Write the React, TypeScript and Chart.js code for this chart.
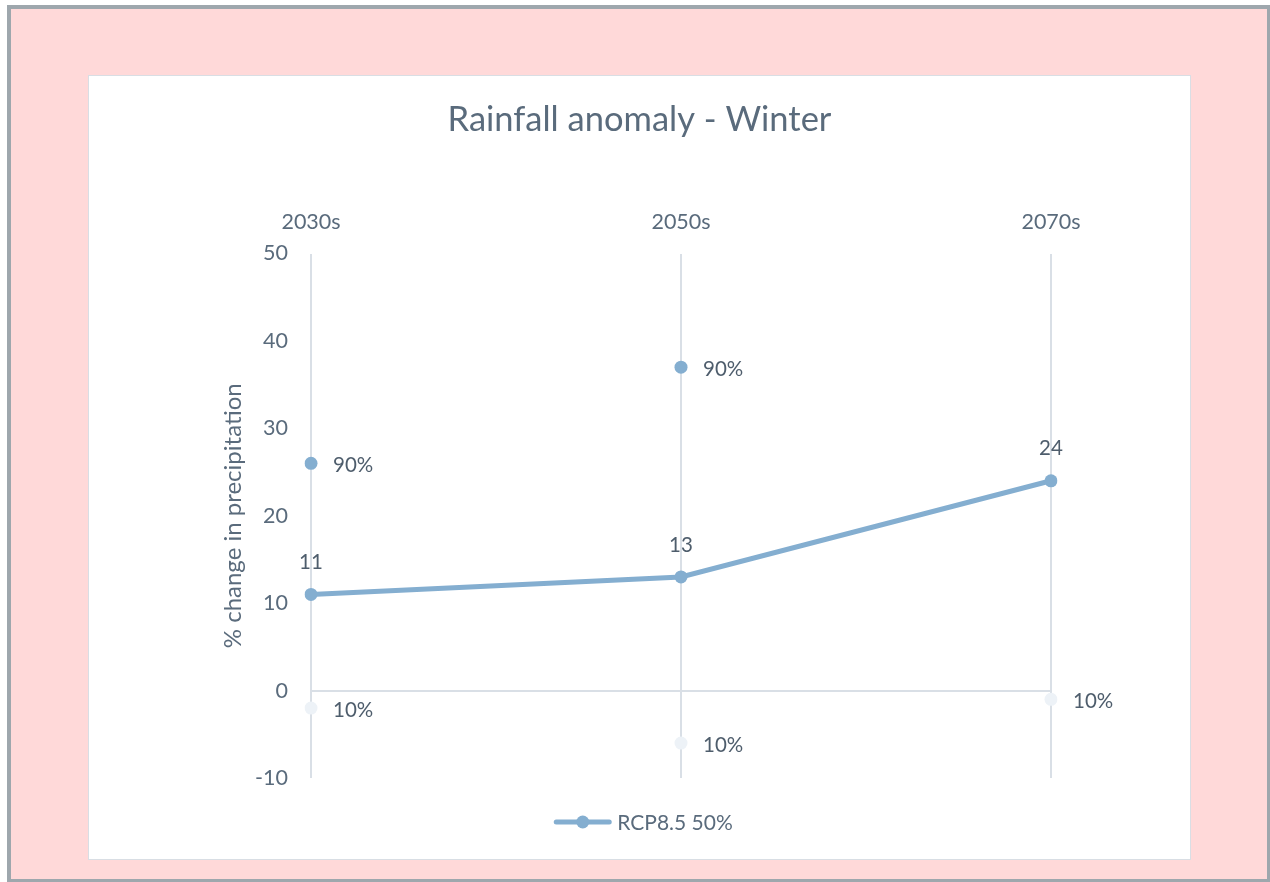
import { useEffect, useRef } from "react";
import { Chart, registerables } from "chart.js";

Chart.register(...registerables);

const titleText = "Rainfall anomaly - Winter";
const yAxisTitle = "% change in precipitation";
const categories = ["2030s", "2050s", "2070s"];
const median = [11, 13, 24];
const p90 = [26, 37, null];
const p10 = [-2, -6, -1];
const seriesName = "RCP8.5 50%";
const p90Label = "90%";
const p10Label = "10%";
const yMin = -10;
const yMax = 50;
const yStep = 10;

const FONT = "Lato, 'Open Sans', sans-serif";
const TEXT = "#5A6B7C";
const LABEL = "#4E5D6C";
const GRID = "#D9DFE6";
const LINE = "#84AED0";
const LOW = "#EDF2F7";

const labelPlugin = {
  id: "labelPlugin",
  afterDatasetsDraw(chart: any) {
    const ctx = chart.ctx;
    const xs = chart.scales.x;
    const ys = chart.scales.y;
    ctx.save();
    ctx.font = `20.5px ${FONT}`;
    ctx.fillStyle = LABEL;
    ctx.textAlign = "center";
    ctx.textBaseline = "middle";
    median.forEach((v, i) => {
      if (v == null) return;
      ctx.fillText(String(v), xs.getPixelForValue(i), ys.getPixelForValue(v) - 32);
    });
    ctx.textAlign = "left";
    p90.forEach((v, i) => {
      if (v == null) return;
      ctx.fillText(p90Label, xs.getPixelForValue(i) + 22, ys.getPixelForValue(v) + 2);
    });
    p10.forEach((v, i) => {
      if (v == null) return;
      ctx.fillText(p10Label, xs.getPixelForValue(i) + 22, ys.getPixelForValue(v) + 2);
    });
    ctx.restore();
  },
  afterDraw(chart: any) {
    const ctx = chart.ctx;
    ctx.save();
    ctx.font = `21px ${FONT}`;
    const tw = ctx.measureText(seriesName).width;
    const lineW = 53;
    const gap = 8;
    const total = lineW + gap + tw;
    const x0 = chart.width / 2 - total / 2 + 5;
    const y = chart.chartArea.bottom + 44;
    ctx.strokeStyle = LINE;
    ctx.lineWidth = 5;
    ctx.lineCap = "round";
    ctx.beginPath();
    ctx.moveTo(x0, y);
    ctx.lineTo(x0 + lineW, y);
    ctx.stroke();
    ctx.fillStyle = LINE;
    ctx.beginPath();
    ctx.arc(x0 + lineW / 2, y, 6.5, 0, Math.PI * 2);
    ctx.fill();
    ctx.fillStyle = TEXT;
    ctx.textAlign = "left";
    ctx.textBaseline = "middle";
    ctx.fillText(seriesName, x0 + lineW + gap, y + 1);
    ctx.restore();
  },
};

export default function App() {
  const ref = useRef<HTMLCanvasElement | null>(null);

  useEffect(() => {
    if (!ref.current) return;
    const chart = new Chart(ref.current, {
      type: "line",
      data: {
        labels: categories,
        datasets: [
          {
            label: "10%",
            data: p10,
            showLine: false,
            pointRadius: 6.5,
            pointHoverRadius: 6.5,
            pointBackgroundColor: LOW,
            pointBorderWidth: 0,
            borderColor: LOW,
            backgroundColor: LOW,
          },
          {
            label: "90%",
            data: p90,
            showLine: false,
            pointRadius: 6.5,
            pointHoverRadius: 6.5,
            pointBackgroundColor: LINE,
            pointBorderWidth: 0,
            borderColor: LINE,
            backgroundColor: LINE,
          },
          {
            label: seriesName,
            data: median,
            borderColor: LINE,
            backgroundColor: LINE,
            borderWidth: 5,
            pointRadius: 6.5,
            pointHoverRadius: 6.5,
            pointBackgroundColor: LINE,
            pointBorderWidth: 0,
            tension: 0,
          },
        ],
      },
      options: {
        animation: false,
        responsive: false,
        maintainAspectRatio: false,
        layout: { padding: { left: 122, right: 122, top: 0, bottom: 81 } },
        plugins: {
          legend: { display: false },
          tooltip: { enabled: false },
          title: {
            display: true,
            text: titleText,
            color: TEXT,
            font: { family: FONT, size: 34.5, weight: "normal" },
            padding: { top: 23.3, bottom: 49 },
          },
        },
        scales: {
          x: {
            type: "category",
            position: "top",
            offset: false,
            grid: { display: true, color: GRID, lineWidth: 2, drawTicks: false },
            border: { display: false },
            ticks: { color: TEXT, font: { family: FONT, size: 21.5 }, padding: 19 },
          },
          y: {
            min: yMin,
            max: yMax,
            afterFit: (s: any) => {
              s.width = 100;
            },
            grid: {
              display: true,
              drawTicks: false,
              lineWidth: 2,
              color: (c: any) => (c.tick && c.tick.value === 0 ? GRID : "rgba(0,0,0,0)"),
            },
            border: { display: false },
            ticks: {
              stepSize: yStep,
              color: TEXT,
              font: { family: FONT, size: 21.5 },
              padding: 23,
            },
            title: {
              display: true,
              text: yAxisTitle,
              color: TEXT,
              font: { family: FONT, size: 24, weight: "normal" },
              padding: { top: 7.6, bottom: 0 },
            },
          },
          ySpacer: {
            type: "linear",
            position: "right",
            min: yMin,
            max: yMax,
            afterFit: (s: any) => {
              s.width = 17;
            },
            grid: { display: false, drawTicks: false },
            border: { display: false },
            ticks: { display: false },
          },
        },
      },
      plugins: [labelPlugin],
    });
    return () => chart.destroy();
  }, []);

  return (
    <div style={{ position: "absolute", left: 0, top: 0, width: 1270, height: 882, overflow: "hidden", background: "#ffffff" }}>
      <div
        style={{
          position: "absolute",
          left: 7,
          top: 5,
          width: 1264,
          height: 878,
          boxSizing: "border-box",
          border: "4px solid #9EA7AD",
          background: "#FFD9D9",
        }}
      />
      <div
        style={{
          position: "absolute",
          left: 88,
          top: 75,
          width: 1103,
          height: 785,
          boxSizing: "border-box",
          border: "1px solid #D9DEE4",
          background: "#FFFFFF",
        }}
      >
        <canvas ref={ref} width={1101} height={783} style={{ display: "block", width: 1101, height: 783 }} />
      </div>
    </div>
  );
}
